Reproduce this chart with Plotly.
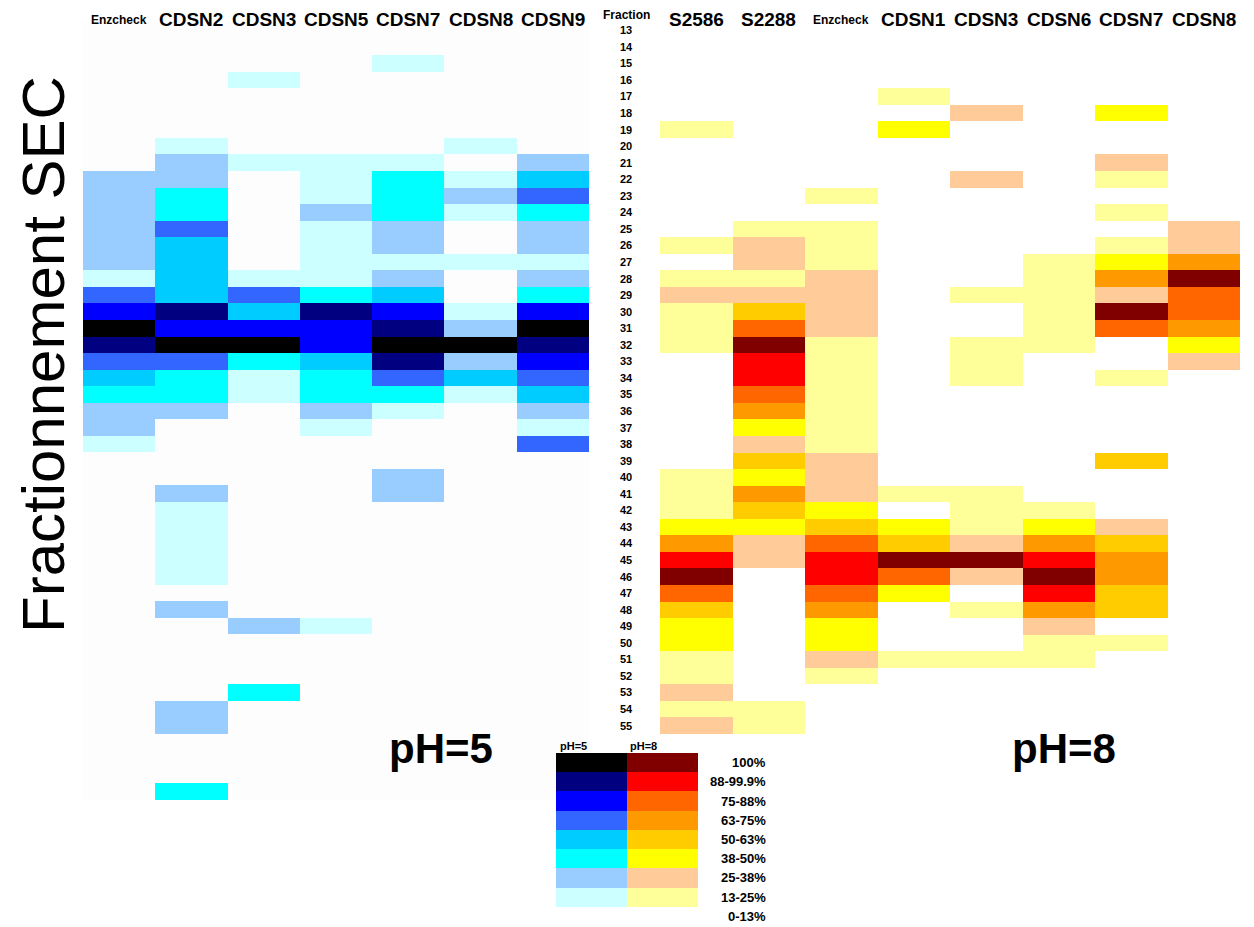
import plotly.graph_objects as go

# ---------------- data ----------------
left_cols = ["Enzcheck", "CDSN2", "CDSN3", "CDSN5", "CDSN7", "CDSN8", "CDSN9"]
right_cols = ["S2586", "S2288", "Enzcheck", "CDSN1", "CDSN3", "CDSN6", "CDSN7", "CDSN8"]

fractions_left = [13, 14, 15, 16, 17, 18, 19, 20, 21, 22, 23, 24, 25, 26, 27, 28, 29, 30,
                  31, 32, 33, 34, 35, 36, 37, 38, 39, 40, 41, 42, 43, 44, 45, 46, 47, 48,
                  49, 50, 51, 52, 53, 54, 55, 56, 57, 58, 59]
fractions_right = [13, 14, 15, 16, 17, 18, 19, 20, 21, 22, 23, 24, 25, 26, 27, 28, 29, 30,
                   31, 32, 33, 34, 35, 36, 37, 38, 39, 40, 41, 42, 43, 44, 45, 46, 47, 48,
                   49, 50, 51, 52, 53, 54, 55]
fraction_labels = [13, 14, 15, 16, 17, 18, 19, 20, 21, 22, 23, 24, 25, 26, 27, 28, 29, 30,
                   31, 32, 33, 34, 35, 36, 37, 38, 39, 40, 41, 42, 43, 44, 45, 46, 47, 48,
                   49, 50, 51, 52, 53, 54, 55]

# activity class (0 = 0-13% ... 8 = 100%) per column, fraction 13..59  (pH=5)
ph5_enzcheck = [0]*9 + [2]*6 + [1, 5, 6, 8, 7, 5, 4, 3, 2, 2, 1] + [0]*21
ph5_cdsn2 = [0]*7 + [1, 2, 2, 3, 3, 5, 4, 4, 4, 4, 7, 6, 8, 5, 3, 3, 2] + [0]*4 + [2] + [1]*5 + \
            [0, 2] + [0]*5 + [2, 2] + [0]*3 + [3]
ph5_cdsn3 = [0]*3 + [1] + [0]*4 + [1] + [0]*6 + [1, 5, 4, 6, 8, 3, 1, 1] + [0]*13 + [2] + \
            [0]*3 + [3] + [0]*6
ph5_cdsn5 = [0]*8 + [1, 1, 1, 2, 1, 1, 1, 1, 3, 7, 6, 6, 4, 3, 3, 2, 1] + [0]*11 + [1] + [0]*10
ph5_cdsn7 = [0]*2 + [1] + [0]*5 + [1, 3, 3, 3, 2, 2, 1, 2, 4, 6, 7, 8, 7, 5, 3, 1] + [0]*3 + \
            [2, 2] + [0]*18
ph5_cdsn8 = [0]*7 + [1, 0, 1, 2, 1, 0, 0, 1, 0, 0, 1, 2, 8, 2, 4, 1] + [0]*24
ph5_cdsn9 = [0]*8 + [2, 4, 5, 3, 2, 2, 1, 2, 3, 6, 8, 7, 6, 5, 4, 2, 1, 5] + [0]*21

# fraction 13..55 (pH=8)
ph8_s2586 = [0]*6 + [1] + [0]*6 + [1, 0, 1, 2, 1, 1, 1] + [0]*7 + \
            [1, 1, 1, 3, 5, 7, 8, 6, 4, 3, 3, 1, 1, 2, 1, 2]
ph8_s2288 = [0]*12 + [1, 2, 2, 1, 2, 4, 6, 8, 7, 7, 6, 5, 3, 2, 4, 3, 5, 4, 3, 2, 2] + \
            [0]*8 + [1, 1]
ph8_enzcheck = [0]*10 + [1, 0] + [1, 1, 1, 2, 2, 2, 2, 1] + [1]*6 + \
               [2, 2, 2, 3, 4, 6, 7, 7, 6, 5, 3, 3, 2, 1] + [0]*3
ph8_cdsn1 = [0]*4 + [1, 0, 3] + [0]*21 + [1, 0, 3, 4, 8, 6, 3] + [0]*3 + [1] + [0]*4
ph8_cdsn3 = [0]*5 + [2] + [0]*3 + [2] + [0]*6 + [1, 0, 0, 1, 1, 1] + [0]*6 + \
            [1, 1, 1, 2, 8, 2, 0, 1, 0, 0, 1] + [0]*4
ph8_cdsn6 = [0]*14 + [1]*6 + [0]*9 + [1, 3, 5, 7, 8, 7, 5, 2, 1, 1] + [0]*4
ph8_cdsn7 = [0]*5 + [3, 0, 0] + [2, 1, 0, 1, 0, 1, 3, 5, 2, 8, 6, 0, 0, 1] + [0]*4 + [4] + \
            [0]*3 + [2, 4, 5, 5, 4, 4, 0, 1] + [0]*5
ph8_cdsn8 = [0]*12 + [2, 2, 5, 8, 6, 6, 5, 3, 2] + [0]*22

legend_levels = [8, 7, 6, 5, 4, 3, 2, 1, 0]
legend_labels = ["100%", "88-99.9%", "75-88%", "63-75%", "50-63%", "38-50%",
                 "25-38%", "13-25%", "0-13%"]

blue_colors = ["#FDFDFD", "#CCFFFF", "#99CCFF", "#00FFFF", "#00CCFF",
               "#3366FF", "#0000FF", "#000080", "#000000"]
legend_blue = ["#FFFFFF", "#CCFFFF", "#99CCFF", "#00FFFF", "#00CCFF",
               "#3366FF", "#0000FF", "#000080", "#000000"]
warm_colors = ["#FFFFFF", "#FFFF99", "#FFCC99", "#FFFF00", "#FFCC00",
               "#FF9900", "#FF6600", "#FF0000", "#800000"]


def stepped(colors):
    n = len(colors)
    cs = []
    for i, c in enumerate(colors):
        cs.append([i / n, c])
        cs.append([(i + 1) / n, c])
    return cs


# ---------------- layout geometry ----------------
W, H = 1254, 927
OFF = 8  # default page body margin
FONT = "Arial, Liberation Sans, sans-serif"


def px_x(x):
    return (x - OFF) / W


def px_y(y):
    return 1 - (y - OFF) / H


left_cols_z = [ph5_enzcheck, ph5_cdsn2, ph5_cdsn3, ph5_cdsn5, ph5_cdsn7, ph5_cdsn8, ph5_cdsn9]
right_cols_z = [ph8_s2586, ph8_s2288, ph8_enzcheck, ph8_cdsn1, ph8_cdsn3, ph8_cdsn6,
                ph8_cdsn7, ph8_cdsn8]

z_left = [[col[i] for col in left_cols_z] for i in range(len(fractions_left))]
z_right = [[col[i] for col in right_cols_z] for i in range(len(fractions_right))]

fig = go.Figure()

fig.add_trace(go.Heatmap(
    z=z_left, x=list(range(len(left_cols))), y=fractions_left,
    colorscale=stepped(blue_colors), zmin=-0.5, zmax=8.5, showscale=False,
    xaxis="x", yaxis="y", hoverinfo="skip"))

fig.add_trace(go.Heatmap(
    z=z_right, x=list(range(len(right_cols))), y=fractions_right,
    colorscale=stepped(warm_colors), zmin=-0.5, zmax=8.5, showscale=False,
    xaxis="x2", yaxis="y", hoverinfo="skip"))

# legend swatches
fig.add_trace(go.Heatmap(
    z=[[v] for v in legend_levels], x=[0], y=list(range(len(legend_levels))),
    colorscale=stepped(legend_blue),
    zmin=-0.5, zmax=8.5, showscale=False, xaxis="x3", yaxis="y3", hoverinfo="skip"))
fig.add_trace(go.Heatmap(
    z=[[v] for v in legend_levels], x=[1], y=list(range(len(legend_levels))),
    colorscale=stepped(warm_colors), zmin=-0.5, zmax=8.5, showscale=False,
    xaxis="x3", yaxis="y3", hoverinfo="skip"))

hidden = dict(showgrid=False, zeroline=False, showticklabels=False, ticks="",
              showline=False, fixedrange=True)

y_top, y_bot = 22, 800
leg_top, leg_bot = 753, 926

fig.update_layout(
    width=W, height=H,
    margin=dict(l=0, r=0, t=0, b=0),
    paper_bgcolor="white", plot_bgcolor="white",
    showlegend=False,
    xaxis=dict(domain=[px_x(83), px_x(589)], range=[-0.5, 6.5], anchor="y", **hidden),
    xaxis2=dict(domain=[px_x(660), px_x(1240)], range=[-0.5, 7.5], anchor="y", **hidden),
    yaxis=dict(domain=[px_y(y_bot), px_y(y_top)], range=[59.5, 12.5], anchor="x", **hidden),
    xaxis3=dict(domain=[px_x(556), px_x(698)], range=[-0.5, 1.5], anchor="y3", **hidden),
    yaxis3=dict(domain=[px_y(leg_bot), px_y(leg_top)], range=[8.5, -0.5], anchor="x3", **hidden),
)

ann = []
# column headers
for i, name in enumerate(left_cols):
    small = name == "Enzcheck"
    ann.append(dict(x=i, xref="x", y=px_y(19 if not small else 20), yref="paper",
                    text="<b>%s</b>" % name, showarrow=False, xanchor="center", yanchor="middle",
                    font=dict(family=FONT, size=12 if small else 19, color="black")))
for i, name in enumerate(right_cols):
    small = name == "Enzcheck"
    ann.append(dict(x=i, xref="x2", y=px_y(19 if not small else 20), yref="paper",
                    text="<b>%s</b>" % name, showarrow=False, xanchor="center", yanchor="middle",
                    font=dict(family=FONT, size=12 if small else 19, color="black")))

# fraction labels
ann.append(dict(x=px_x(626), xref="paper", y=px_y(15), yref="paper", text="<b>Fraction</b>",
                showarrow=False, xanchor="center", yanchor="middle",
                font=dict(family=FONT, size=12, color="black")))
for f in fraction_labels:
    ann.append(dict(x=px_x(626), xref="paper", y=f, yref="y", text="<b>%d</b>" % f,
                    showarrow=False, xanchor="center", yanchor="middle",
                    font=dict(family=FONT, size=11, color="black")))

# pH panel labels
ann.append(dict(x=px_x(441), xref="paper", y=px_y(748), yref="paper", text="<b>pH=5</b>",
                showarrow=False, xanchor="center", yanchor="middle",
                font=dict(family=FONT, size=42, color="black")))
ann.append(dict(x=px_x(1064), xref="paper", y=px_y(748), yref="paper", text="<b>pH=8</b>",
                showarrow=False, xanchor="center", yanchor="middle",
                font=dict(family=FONT, size=42, color="black")))

# big rotated title
ann.append(dict(x=px_x(44), xref="paper", y=px_y(355), yref="paper",
                text="Fractionnement SEC", textangle=-90, showarrow=False,
                xanchor="center", yanchor="middle",
                font=dict(family=FONT, size=60, color="black")))

# legend header and labels
ann.append(dict(x=px_x(558), xref="paper", y=px_y(746), yref="paper", text="<b>pH=5</b>",
                showarrow=False, xanchor="left", yanchor="middle",
                font=dict(family=FONT, size=11, color="black")))
ann.append(dict(x=px_x(628), xref="paper", y=px_y(746), yref="paper", text="<b>pH=8</b>",
                showarrow=False, xanchor="left", yanchor="middle",
                font=dict(family=FONT, size=11, color="black")))
for i, lab in enumerate(legend_labels):
    ann.append(dict(x=px_x(768), xref="paper", y=i, yref="y3", text="<b>%s</b>" % lab,
                    showarrow=False, xanchor="right", yanchor="middle",
                    font=dict(family=FONT, size=13, color="black")))

fig.update_layout(annotations=ann)

fig.write_html("out.html", config={"displayModeBar": False, "staticPlot": True})
